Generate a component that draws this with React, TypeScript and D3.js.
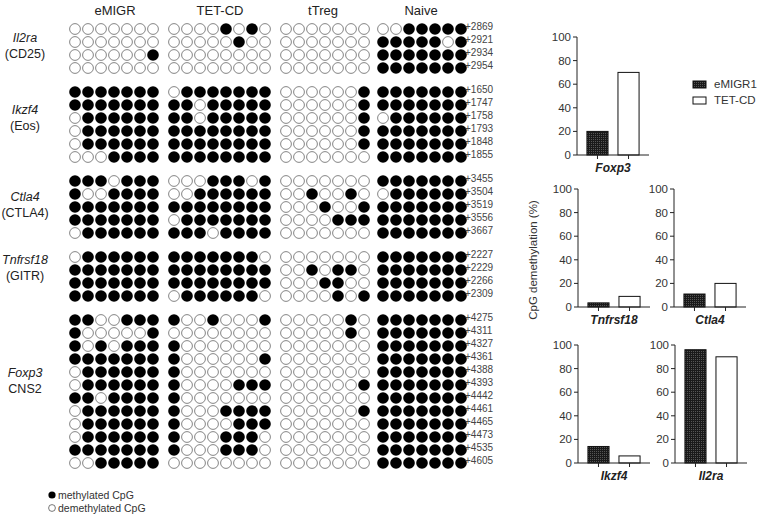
import React from "react";
import * as d3 from "d3";

// bisulfite clone calls: 1 = methylated CpG, 0 = demethylated CpG
const samples = ["eMIGR", "TET-CD", "tTreg", "Naive"];

const il2raSites = ["+2869", "+2921", "+2934", "+2954"];
const il2raCalls = [
  ["0000000", "0000000", "0000001", "0000000"],
  ["00001010", "00000100", "00000000", "00000000"],
  ["0000000", "0000000", "0000000", "0000000"],
  ["0011111", "1111101", "1111111", "1111111"],
];

const ikzf4Sites = ["+1650", "+1747", "+1758", "+1793", "+1848", "+1855"];
const ikzf4Calls = [
  ["1111111", "1111111", "0111111", "0111111", "0111111", "0001111"],
  ["01111111", "11011111", "11011111", "11111111", "11111111", "11111111"],
  ["0000001", "0000001", "0000001", "0000001", "0000001", "0000000"],
  ["1111111", "1111111", "0111111", "1111111", "1111111", "1111111"],
];

const ctla4Sites = ["+3455", "+3504", "+3519", "+3556", "+3667"];
const ctla4Calls = [
  ["1110111", "1001111", "1111111", "1111111", "0111111"],
  ["00011101", "00111111", "11111111", "01111111", "11101111"],
  ["0000000", "0010010", "0001001", "0000111", "0000000"],
  ["1111111", "0111111", "1111111", "1111111", "1111111"],
];

const gitrSites = ["+2227", "+2229", "+2266", "+2309"];
const gitrCalls = [
  ["0111111", "1111111", "1111111", "1111111"],
  ["11111110", "11111111", "11111111", "01111110"],
  ["0000000", "0010110", "0001100", "0000101"],
  ["1111111", "1111111", "1111111", "1111111"],
];

const foxp3Sites = ["+4275", "+4311", "+4327", "+4361", "+4388", "+4393", "+4442", "+4461", "+4465", "+4473", "+4535", "+4605"];
const foxp3Calls = [
  ["1100111", "1000001", "1010111", "1111111", "0111111", "0111111", "1101111", "0111111", "0111111", "0111111", "1111111", "0011111"],
  ["10010001", "00000000", "10000000", "10000001", "10000000", "10000111", "10000000", "10001111", "10000111", "10001110", "10001110", "00000000"],
  ["0000010", "0000010", "0000000", "0000000", "0000000", "0000001", "0000000", "0000001", "0000000", "0000000", "0000000", "0000000"],
  ["1111111", "1111111", "1111111", "1111111", "1111111", "1111111", "1111111", "1111111", "1111111", "1111111", "1111111", "1111111"],
];

const geneNames = ["Il2ra", "Ikzf4", "Ctla4", "Tnfrsf18", "Foxp3"];
const geneSubtitles = ["(CD25)", "(Eos)", "(CTLA4)", "(GITR)", "CNS2"];

// bar charts: % CpG demethylation
const barGenes = ["Foxp3", "Tnfrsf18", "Ctla4", "Ikzf4", "Il2ra"];
const barSeries = ["eMIGR1", "TET-CD"];
const emigr1Demeth = [20, 3.5, 11, 14, 96];
const tetcdDemeth = [70, 9, 20, 6, 90];
const yTicks = [0, 20, 40, 60, 80, 100];

const FONT = "'Liberation Sans', Arial, sans-serif";

const groups = [
  { sites: il2raSites, calls: il2raCalls, y0: 29 },
  { sites: ikzf4Sites, calls: ikzf4Calls, y0: 92 },
  { sites: ctla4Sites, calls: ctla4Calls, y0: 181 },
  { sites: gitrSites, calls: gitrCalls, y0: 257 },
  { sites: foxp3Sites, calls: foxp3Calls, y0: 320 },
];
const sampleX0 = [75, 174, 286, 383];
const headerX = [115, 220, 323, 421];
const geneLabelY = [38, 110, 197, 260, 373];

const panels = [
  { x: 577, y: 37 },
  { x: 578, y: 189 },
  { x: 674, y: 189 },
  { x: 578, y: 345 },
  { x: 675, y: 345 },
];

const R = 5.6;
const STEP = 13;

const BarPanel = ({ gi }: { gi: number }) => {
  const p = panels[gi];
  const h = 118;
  const y = d3.scaleLinear().domain([0, 100]).range([h, 0]);
  const x = d3.scaleBand().domain(barSeries).range([0, 72]).padding(0.32);
  const vals = [emigr1Demeth[gi], tetcdDemeth[gi]];
  return (
    <g transform={`translate(${p.x},${p.y})`} fontFamily={FONT}>
      {barSeries.map((s, i) => (
        <rect key={s} x={x(s)} y={y(vals[i])} width={x.bandwidth()} height={h - y(vals[i])}
          fill={i === 0 ? "url(#hatch)" : "#fff"} stroke="#111" strokeWidth={1} />
      ))}
      <line x1={0} x2={0} y1={0} y2={h} stroke="#222" strokeWidth={1} />
      <line x1={0} x2={72} y1={h} y2={h} stroke="#222" strokeWidth={1} />
      {yTicks.map((t) => (
        <g key={t} transform={`translate(0,${y(t)})`}>
          <line x1={-4} x2={0} stroke="#222" />
          <text x={-6} dy="0.35em" textAnchor="end" fontSize={11.5} fill="#333">{t}</text>
        </g>
      ))}
      {barSeries.map((s) => (
        <line key={s} x1={x(s)! + x.bandwidth() / 2} x2={x(s)! + x.bandwidth() / 2} y1={h} y2={h + 4} stroke="#222" />
      ))}
      <text x={36} y={h + 17} textAnchor="middle" fontSize={12} fontWeight="bold" fontStyle="italic" fill="#222">
        {barGenes[gi]}
      </text>
    </g>
  );
};

const App = () => {
  return (
    <svg width={757} height={515} style={{ position: "absolute", left: 0, top: 0, background: "#fff" }} fontFamily={FONT}>
      <defs>
        <pattern id="hatch" width={2} height={2} patternUnits="userSpaceOnUse">
          <rect width={2} height={2} fill="#1a1a1a" />
          <rect width={1} height={1} fill="#555" />
        </pattern>
      </defs>
      <rect width={757} height={515} fill="#fff" />
      {samples.map((s, i) => (
        <text key={s} x={headerX[i]} y={15} textAnchor="middle" fontSize={13} fill="#222">{s}</text>
      ))}
      {groups.map((g, gi) => {
        const yS = d3.scaleLinear().domain([0, 1]).range([g.y0, g.y0 + STEP]);
        return (
          <g key={gi}>
            <text x={25} y={geneLabelY[gi] + 4} textAnchor="middle" fontSize={12.5} fontStyle="italic" fill="#222">{geneNames[gi]}</text>
            <text x={25} y={geneLabelY[gi] + 20} textAnchor="middle" fontSize={12.5} fill="#222">{geneSubtitles[gi]}</text>
            {g.calls.map((rows, si) => {
              const xS = d3.scaleLinear().domain([0, 1]).range([sampleX0[si], sampleX0[si] + STEP]);
              return rows.map((row, ri) =>
                row.split("").map((c, ci) => (
                  <circle key={`${si}-${ri}-${ci}`} cx={xS(ci)} cy={yS(ri)} r={c === "1" ? R + 0.2 : R - 0.2}
                    fill={c === "1" ? "#000" : "#fff"} stroke={c === "1" ? "#000" : "#666"} strokeWidth={c === "1" ? 0 : 0.8} />
                ))
              );
            })}
            {g.sites.map((s, ri) => (
              <text key={s} x={465} y={yS(ri) + 0.5} fontSize={10} fill="#444">{s}</text>
            ))}
          </g>
        );
      })}
      <circle cx={52} cy={495} r={3.6} fill="#000" />
      <text x={58} y={499} fontSize={10.5} fill="#333">methylated CpG</text>
      <circle cx={52} cy={508} r={3.4} fill="#fff" stroke="#555" strokeWidth={0.8} />
      <text x={58} y={512} fontSize={10.5} fill="#333">demethylated CpG</text>

      {barGenes.map((g, gi) => <BarPanel key={g} gi={gi} />)}

      <rect x={693} y={81} width={13} height={7} fill="url(#hatch)" stroke="#111" />
      <text x={714} y={88} fontSize={11.5} fill="#333">eMIGR1</text>
      <rect x={693} y={97} width={13} height={7} fill="#fff" stroke="#111" />
      <text x={714} y={104} fontSize={11.5} fill="#333">TET-CD</text>

      <text transform="translate(537,260) rotate(-90)" textAnchor="middle" fontSize={11.5} fill="#333">CpG demethylation (%)</text>
    </svg>
  );
};

export default App;
